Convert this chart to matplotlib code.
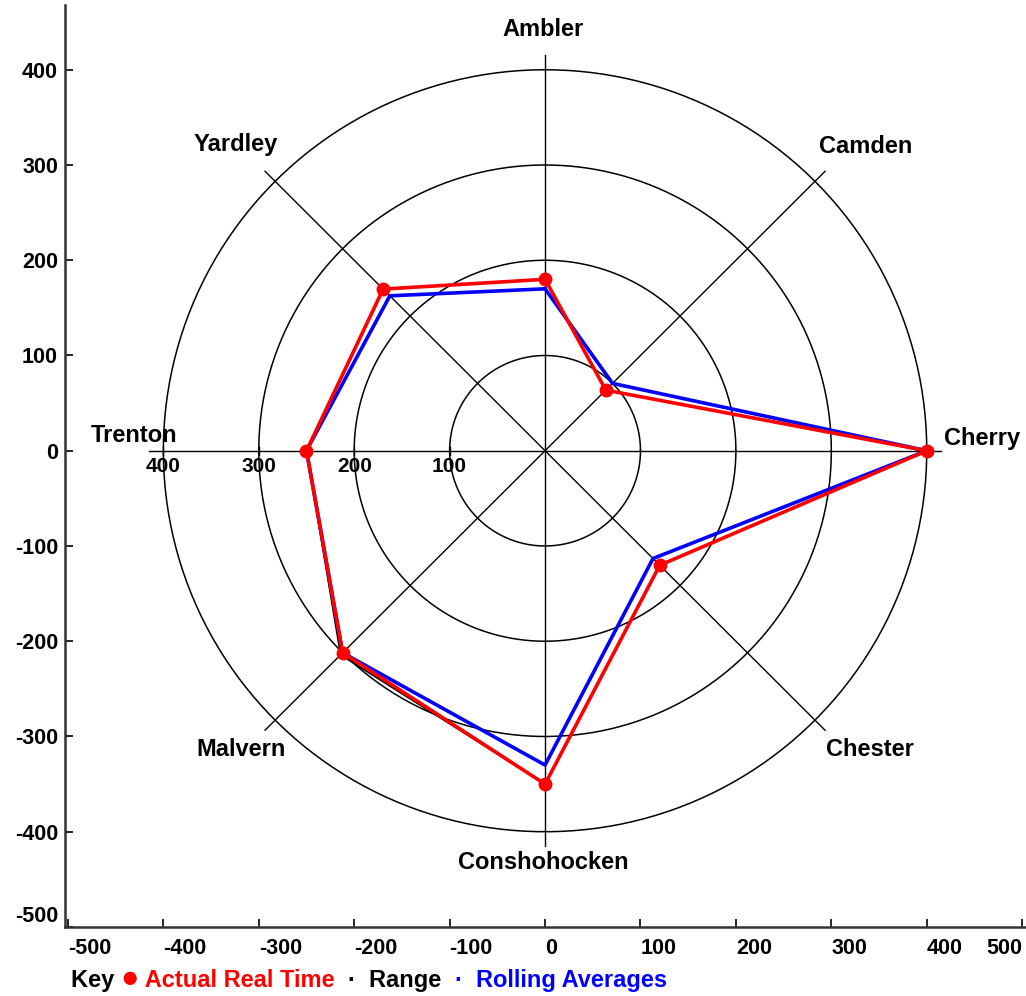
import numpy as np
import matplotlib
matplotlib.use("Agg")
import matplotlib.pyplot as plt
from matplotlib.offsetbox import TextArea, HPacker, AnchoredOffsetbox

plt.rcParams['font.family'] = ['Liberation Sans', 'DejaVu Sans']
plt.rcParams['font.weight'] = 'bold'

# ── data ─────────────────────────────────────────────────────────────────────
sites = ["Ambler", "Camden", "Cherry", "Chester",
         "Conshohocken", "Malvern", "Trenton", "Yardley"]
actual = [180, 90, 400, 170, 350, 300, 250, 240]
rolling = [170, 100, 400, 160, 330, 300, 250, 230]
range_vals = [180, 90, 400, 170, 350, 303, 250, 240]
rings = [100, 200, 300, 400]
ring_labels = ["100", "200", "300", "400"]
x_ticks = [-500, -400, -300, -200, -100, 0, 100, 200, 300, 400, 500]
y_ticks = [-500, -400, -300, -200, -100, 0, 100, 200, 300, 400]

# where the spoke names sit (data units)
label_x = [-2, 336, 458, 340, -2, -319, -431, -324]
label_y = [442, 319, 13, -314, -432, -314, 16, 321]

# spokes clockwise starting at the top
angles = np.radians(90 - 45 * np.arange(len(sites)))


def to_xy(r, ang):
    r = np.asarray(r, dtype=float)
    return r * np.cos(ang), r * np.sin(ang)


fig = plt.figure(figsize=(10.26, 9.96), dpi=100)
ax = fig.add_axes([0.0634, 0.0693, 0.9366, 0.9257])
ax.set_xlim(-503, 504)
ax.set_ylim(-497, 468)

# ── grid: rings and spokes ───────────────────────────────────────────────────
t = np.linspace(0, 2 * np.pi, 400)
for r in rings:
    ax.plot(r * np.cos(t), r * np.sin(t), color='black', lw=1.1, zorder=1)

spoke_len = 415
for a in angles:
    ax.plot([0, spoke_len * np.cos(a)], [0, spoke_len * np.sin(a)],
            color='black', lw=1.0, zorder=1)

# radial scale on the Trenton spoke
for r, lab in zip(rings, ring_labels):
    ax.plot([-r, -r], [-4, 4], color='black', lw=1.0, zorder=1)
    ax.text(-r, -7, lab, ha='center', va='top', fontsize=15,
            fontweight='bold')

# ── series ───────────────────────────────────────────────────────────────────
xr, yr = to_xy(range_vals, angles)
ax.plot(np.append(xr, xr[0]), np.append(yr, yr[0]), color='black',
        lw=1.2, zorder=2)
xb, yb = to_xy(rolling, angles)
ax.plot(np.append(xb, xb[0]), np.append(yb, yb[0]), color='#0000ff',
        lw=2.6, zorder=3)
xa, ya = to_xy(actual, angles)
ax.plot(np.append(xa, xa[0]), np.append(ya, ya[0]), color='#ff0000',
        lw=2.6, zorder=4)
ax.plot(xa, ya, 'o', color='#ff0000', ms=9, zorder=5)

# spoke names
for name, lx, ly in zip(sites, label_x, label_y):
    ax.text(lx, ly, name, ha='center', va='center',
            fontsize=17, fontweight='bold')

# ── axes styling ─────────────────────────────────────────────────────────────
ax.spines['top'].set_visible(False)
ax.spines['right'].set_visible(False)
for s in ('left', 'bottom'):
    ax.spines[s].set_linewidth(1.8)
    ax.spines[s].set_color('#333333')

ax.set_xticks(x_ticks)
ax.set_yticks(y_ticks)
ax.set_xticklabels([str(v) for v in x_ticks])
ax.set_yticklabels([str(v) for v in y_ticks])
ax.tick_params(direction='in', length=6, width=1.2, labelsize=15.5)
ax.tick_params(axis='y', pad=5)
ax.tick_params(axis='x', pad=8)
for lab in ax.get_xticklabels():
    lab.set_fontweight('bold')
    lab.set_ha('left')
ax.get_xticklabels()[-1].set_ha('right')
for lab in ax.get_yticklabels():
    lab.set_fontweight('bold')
ax.get_yticklabels()[0].set_va('bottom')

# ── key ──────────────────────────────────────────────────────────────────────
key_items = [("Key ", 'black', 17), ("\u25cf", '#ff0000', 22),
             (" Actual Real Time  ", '#ff0000', 17), ("\u00b7  ", 'black', 17),
             ("Range  ", 'black', 17), ("\u00b7  ", '#0000ff', 17),
             ("Rolling Averages", '#0000ff', 17)]
boxes = [TextArea(txt, textprops=dict(color=c, fontsize=fs, fontweight='bold'))
         for txt, c, fs in key_items]
pack = HPacker(children=boxes, align='baseline', pad=0, sep=0)
anchored = AnchoredOffsetbox(loc='lower left', child=pack, pad=0, frameon=False,
                             bbox_to_anchor=(0.069, 0.002),
                             bbox_transform=fig.transFigure, borderpad=0)
fig.add_artist(anchored)

fig.savefig("out.png", dpi=100, facecolor='white')
